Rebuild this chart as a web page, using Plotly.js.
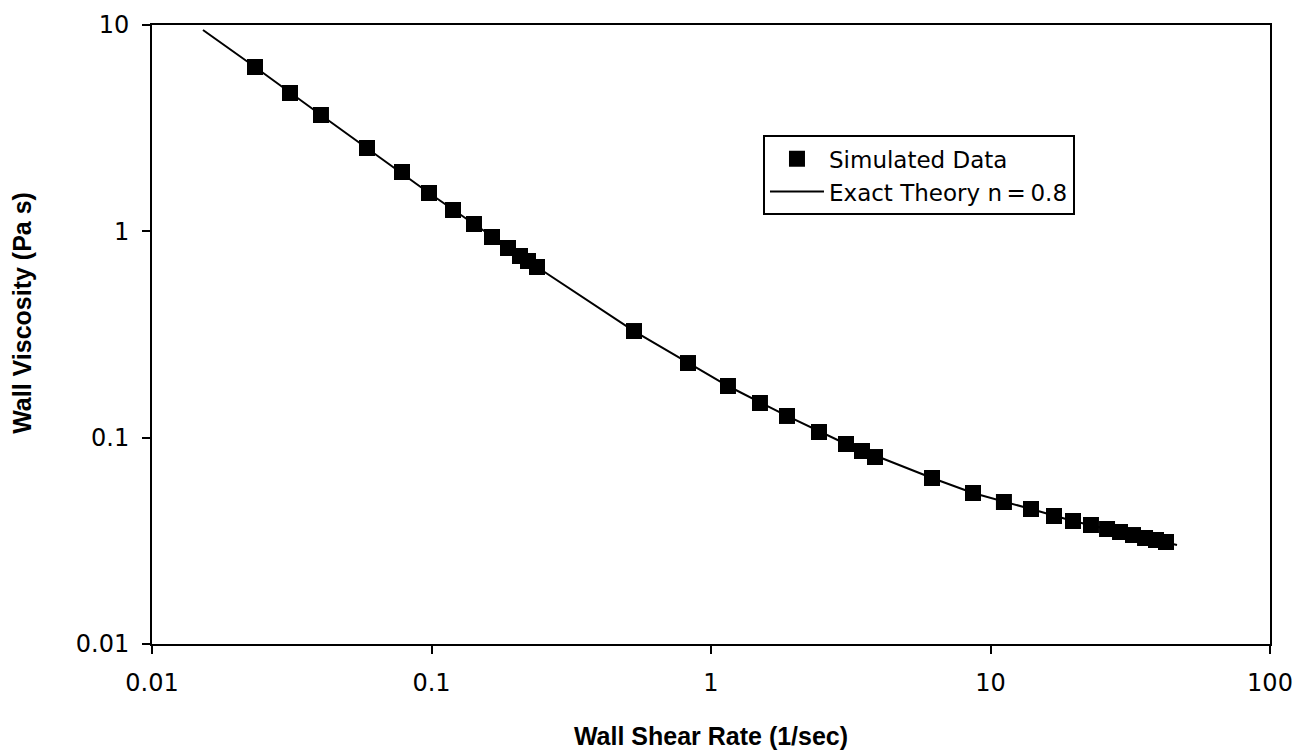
<!DOCTYPE html>
<html>
<head>
<meta charset="utf-8">
<script src="https://cdn.plot.ly/plotly-3.0.1.min.js"></script>
<style>
  html, body { margin: 0; padding: 0; background: #fff; }
  #chart { width: 1303px; height: 756px; }
</style>
</head>
<body>
<div id="chart"></div>
<script>
// Simulated wall shear rate (1/sec) and wall viscosity (Pa s)
const simShearRate = [0.02336, 0.03117, 0.04023, 0.05878, 0.07842, 0.09797, 0.1194, 0.1419,
  0.1646, 0.1878, 0.2073, 0.2214, 0.2385, 0.5303, 0.8273, 1.150, 1.497, 1.870, 2.434,
  3.041, 3.470, 3.862, 6.177, 8.659, 11.17, 13.96, 16.87, 19.73, 22.88, 26.12, 29.07,
  32.35, 35.72, 39.09, 42.46];
const simViscosity = [6.257, 4.682, 3.662, 2.534, 1.939, 1.534, 1.269, 1.085,
  0.9387, 0.8302, 0.7593, 0.7182, 0.6718, 0.3287, 0.2300, 0.1780, 0.1472, 0.1274, 0.1065,
  0.09317, 0.08616, 0.08057, 0.06375, 0.05393, 0.04877, 0.04510, 0.04172, 0.03946, 0.03774, 0.03609, 0.03490,
  0.03374, 0.03264, 0.03192, 0.03121];

// Exact theory curve for n = 0.8
const theoryShearRate = [0.01522, 0.02336, 0.04023, 0.05878, 0.09797, 0.1419, 0.2385, 0.5303,
  0.8273, 1.150, 1.870, 3.041, 6.177, 8.659, 13.96, 19.73, 26.12, 35.72, 46.48];
const theoryViscosity = [9.457, 6.257, 3.662, 2.534, 1.534, 1.085, 0.6718, 0.3287,
  0.2300, 0.1780, 0.1274, 0.09317, 0.06375, 0.05393, 0.04510, 0.03946, 0.03609, 0.03264, 0.03017];

const xTickVals = [0.01, 0.1, 1, 10, 100];
const xTickText = ["0.01", "0.1", "1", "10", "100"];
const yTickVals = [0.01, 0.1, 1, 10];
const yTickText = ["0.01", "0.1", "1", "10"];

const labelFont = "DejaVu Sans, Verdana, sans-serif";
const titleFont = "Liberation Sans, Arial, sans-serif";

const traces = [
  {
    x: simShearRate, y: simViscosity, name: "Simulated Data",
    type: "scatter", mode: "markers",
    marker: { symbol: "square", size: 16, color: "#000", line: { width: 0 } }
  },
  {
    x: theoryShearRate, y: theoryViscosity, name: "Exact Theory n\u2009=\u20090.8",
    type: "scatter", mode: "lines",
    line: { color: "#000", width: 2 }
  }
];

const axisCommon = {
  type: "log",
  showgrid: false,
  zeroline: false,
  showline: true,
  linecolor: "#000",
  linewidth: 2,
  mirror: true,
  ticks: "outside",
  ticklen: 8,
  tickwidth: 2,
  tickcolor: "#000",
  tickfont: { family: labelFont, size: 24, color: "#000" }
};

const layout = {
  width: 1303, height: 756,
  paper_bgcolor: "#fff", plot_bgcolor: "#fff",
  margin: { l: 152, r: 33, t: 25, b: 112 },
  showlegend: true,
  legend: {
    x: 0.5465, y: 0.822, xanchor: "left", yanchor: "top",
    bgcolor: "#fff", bordercolor: "#000", borderwidth: 2,
    font: { family: labelFont, size: 23, color: "#000" },
    itemwidth: 54
  },
  xaxis: Object.assign({}, axisCommon, {
    range: [-2, 2],
    tickvals: xTickVals, ticktext: xTickText,
    ticklabelstandoff: 8,
    title: { text: "<b>Wall Shear Rate (1/sec)</b>", font: { family: titleFont, size: 25, color: "#000" }, standoff: 32 }
  }),
  yaxis: Object.assign({}, axisCommon, {
    range: [-2, 1],
    tickvals: yTickVals, ticktext: yTickText,
    ticklabelstandoff: 8
  }),
  annotations: [{
    text: "<b>Wall Viscosity (Pa s)</b>",
    xref: "paper", yref: "paper",
    x: -0.1163, y: 0.535, xanchor: "center", yanchor: "middle",
    textangle: -90, showarrow: false,
    font: { family: titleFont, size: 25, color: "#000" }
  }]
};

Plotly.newPlot("chart", traces, layout, { staticPlot: true });
</script>
</body>
</html>
